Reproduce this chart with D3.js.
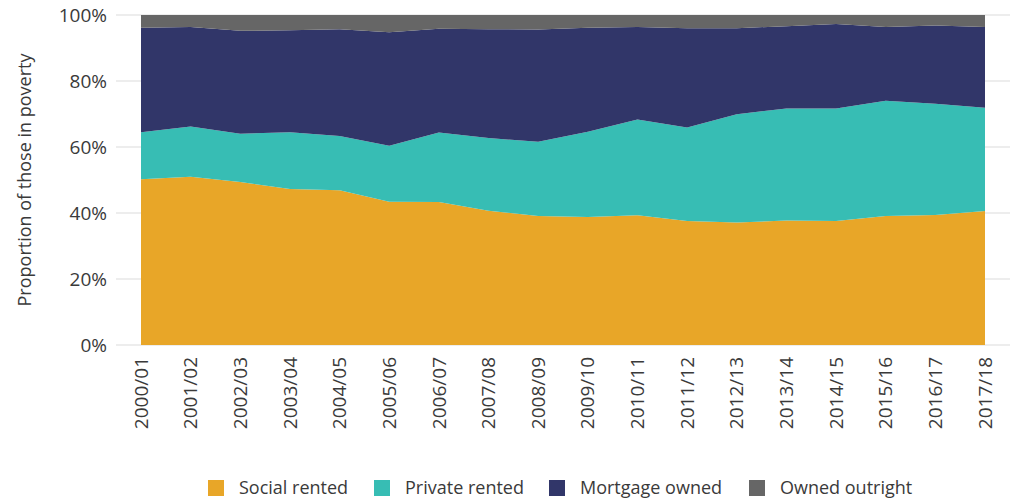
<!DOCTYPE html>
<html>
<head>
<meta charset="utf-8">
<script src="https://cdn.jsdelivr.net/npm/d3@7"></script>
<style>
  html, body { margin: 0; padding: 0; background: #fff; }
  svg { display: block; font-family: "Open Sans", "Noto Sans", sans-serif; }
</style>
</head>
<body>
<svg id="chart" width="1010" height="500"></svg>
<script>
// Survey years
const years = ["2000/01","2001/02","2002/03","2003/04","2004/05","2005/06","2006/07","2007/08","2008/09",
  "2009/10","2010/11","2011/12","2012/13","2013/14","2014/15","2015/16","2016/17","2017/18"];

// Share of people in poverty by housing tenure (%)
const socialRented   = [50.2,51.0,49.4,47.3,46.9,43.4,43.3,40.7,39.1,38.8,39.3,37.6,37.1,37.7,37.6,39.1,39.4,40.6];
const privateRented  = [14.3,15.2,14.6,17.2,16.4,17.0,21.1,22.0,22.5,25.8,29.0,28.3,32.8,34.0,34.1,34.9,33.7,31.3];
const mortgageOwned  = [31.6,30.2,31.2,30.9,32.4,34.4,31.4,33.0,34.0,31.5,28.1,30.1,26.1,24.9,25.6,22.4,23.7,24.5];
const ownedOutright  = [3.9,3.6,4.8,4.6,4.3,5.2,4.2,4.3,4.4,3.9,3.6,4.0,4.0,3.4,2.7,3.6,3.2,3.6];

const seriesNames = ["Social rented","Private rented","Mortgage owned","Owned outright"];
const seriesValues = [socialRented, privateRented, mortgageOwned, ownedOutright];
const colors = ["#E8A628","#37BDB4","#313669","#666666"];

const yTicks = [0,20,40,60,80,100];

const svg = d3.select("#chart");
const textColor = "#3a3a3a";

const rows = years.map((y, i) => {
  const r = { year: y };
  seriesNames.forEach((s, k) => r[s] = seriesValues[k][i]);
  return r;
});

const x = d3.scalePoint().domain(years).range([141, 985]);
const y = d3.scaleLinear().domain([0, 100]).range([345, 15]);

// horizontal gridlines
svg.append("g").selectAll("line").data(yTicks).join("line")
  .attr("x1", 116).attr("x2", 1010)
  .attr("y1", d => y(d)).attr("y2", d => y(d))
  .attr("stroke", "#dcdcdc").attr("stroke-width", 1.2);

// y tick labels
svg.append("g").selectAll("text").data(yTicks).join("text")
  .attr("x", 107).attr("y", d => y(d))
  .attr("dy", "0.35em")
  .attr("text-anchor", "end")
  .attr("fill", textColor)
  .style("font-size", "19px")
  .text(d => d + "%");

// stacked areas
const stack = d3.stack().keys(seriesNames);
const layers = stack(rows);
const area = d3.area()
  .x(d => x(d.data.year))
  .y0(d => y(d[0]))
  .y1(d => y(d[1]));

svg.append("g").selectAll("path").data(layers).join("path")
  .attr("d", area)
  .attr("fill", (d, i) => colors[i]);

// x tick labels, rotated
svg.append("g").selectAll("text").data(years).join("text")
  .attr("transform", d => `translate(${x(d)},357) rotate(-90)`)
  .attr("dy", "0.35em")
  .attr("text-anchor", "end")
  .attr("fill", textColor)
  .style("font-size", "19px")
  .text(d => d);

// y axis title
svg.append("text")
  .attr("transform", "translate(25,180) rotate(-90)")
  .attr("dy", "0.35em")
  .attr("text-anchor", "middle")
  .attr("fill", textColor)
  .style("font-size", "18px")
  .text("Proportion of those in poverty");

// legend
const legendX = [208, 374, 549, 749];
const legend = svg.append("g").selectAll("g").data(seriesNames).join("g")
  .attr("transform", (d, i) => `translate(${legendX[i]},480)`);
legend.append("rect")
  .attr("width", 16).attr("height", 16)
  .attr("fill", (d, i) => colors[i]);
legend.append("text")
  .attr("x", 31).attr("y", 8)
  .attr("dy", "0.35em")
  .attr("fill", textColor)
  .style("font-size", "18px")
  .text(d => d);
</script>
</body>
</html>
